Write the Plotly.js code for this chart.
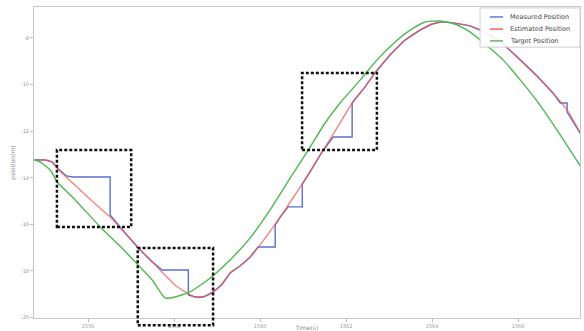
<!DOCTYPE html>
<html><head><meta charset="utf-8">
<script src="https://cdn.plot.ly/plotly-3.0.1.min.js"></script>
<style>html,body{margin:0;padding:0;background:#fff}#chart{width:584px;height:331px}</style>
</head><body><div id="chart"></div>
<script>
// Target position
const targetT = [1554.74,1554.88,1555.12,1555.28,1555.70,1556.28,1556.74,1557.16,1557.49,1557.79,1558.02,1558.37,1558.84,1559.30,1559.77,1560.23,1560.70,1561.12,1561.51,1561.86,1562.33,1562.72,1563.14,1563.49,1563.84,1564.19,1564.53,1564.88,1565.23,1565.65,1566.05,1566.51,1566.98,1567.51];
const targetPos = [-13.24,-13.32,-13.67,-14.18,-14.95,-16.11,-16.93,-17.74,-18.39,-19.16,-19.12,-18.90,-18.30,-17.53,-16.58,-15.38,-14.01,-12.81,-11.65,-10.79,-9.80,-8.94,-8.17,-7.66,-7.31,-7.27,-7.40,-7.74,-8.26,-8.94,-9.80,-10.88,-12.16,-13.67];
// Estimated position
const estT = [1554.74,1555.00,1555.16,1555.28,1555.49,1555.81,1556.16,1556.51,1556.86,1557.21,1557.49,1557.74,1558.02,1558.30,1558.49,1558.67,1558.91,1559.12,1559.30,1559.53,1559.77,1560.12,1560.47,1560.81,1561.16,1561.44,1561.79,1562.14,1562.44,1562.67,1563.02,1563.37,1563.72,1564.00,1564.23,1564.53,1564.88,1565.28,1565.65,1566.05,1566.44,1566.81,1567.14,1567.51];
const estPos = [-13.24,-13.24,-13.32,-13.58,-13.97,-14.52,-15.12,-15.68,-16.37,-17.10,-17.61,-18.09,-18.60,-18.94,-19.12,-19.12,-18.90,-18.56,-18.09,-17.79,-17.40,-16.58,-15.68,-14.74,-13.75,-12.89,-11.86,-10.79,-10.10,-9.50,-8.73,-8.09,-7.66,-7.40,-7.31,-7.36,-7.48,-7.79,-8.26,-8.94,-9.63,-10.36,-11.09,-12.29];
// Measured position (sample-and-hold)
const measT = [1554.74,1555.00,1555.16,1555.28,1555.49,1555.65,1556.51,1556.51,1556.86,1557.21,1557.49,1557.72,1558.33,1558.33,1558.49,1558.67,1558.91,1559.12,1559.30,1559.53,1559.77,1559.95,1560.35,1560.35,1560.47,1560.65,1560.98,1560.98,1561.16,1561.44,1561.70,1562.14,1562.14,1562.44,1562.67,1563.02,1563.37,1563.72,1564.00,1564.23,1564.53,1564.88,1565.28,1565.65,1566.05,1566.44,1566.81,1566.98,1567.14,1567.14,1567.51];
const measPos = [-13.24,-13.24,-13.32,-13.58,-13.92,-13.97,-13.97,-15.60,-16.37,-17.10,-17.61,-17.96,-17.96,-19.03,-19.12,-19.12,-18.90,-18.56,-18.09,-17.79,-17.40,-16.97,-16.97,-16.03,-15.68,-15.25,-15.25,-14.27,-13.75,-12.89,-12.25,-12.25,-10.79,-10.10,-9.50,-8.73,-8.09,-7.66,-7.40,-7.31,-7.36,-7.48,-7.79,-8.26,-8.94,-9.63,-10.36,-10.79,-10.79,-11.18,-12.29];
const xTicks = [1556,1558,1560,1562,1564,1566];
const yTicks = [-8,-10,-12,-14,-16,-18,-20];
const seriesNames = ['Measured Position','Estimated Position','Target Position'];
const seriesColors = ['#5b6fd0','#f0584f','#4fb84f'];

const traces = [
  {x: measT, y: measPos, name: seriesNames[0], mode:'lines', line:{color:seriesColors[0], width:1.4}},
  {x: estT, y: estPos, name: seriesNames[1], mode:'lines', opacity:0.72, line:{color:seriesColors[1], width:1.4, shape:'spline', smoothing:0.6}},
  {x: targetT, y: targetPos, name: seriesNames[2], mode:'lines', line:{color:seriesColors[2], width:1.4, shape:'spline', smoothing:0.5}}
];
const boxStyle = {color:'#111', width:2.5, dash:'3px,2px'};
const shapes = [
  {type:'rect', xref:'paper', yref:'paper', x0:0.042, x1:0.178, y0:0.293, y1:0.540, line:boxStyle},
  {type:'rect', xref:'paper', yref:'paper', x0:0.190, x1:0.328, y0:-0.023, y1:0.225, line:boxStyle},
  {type:'rect', xref:'paper', yref:'paper', x0:0.491, x1:0.628, y0:0.540, y1:0.788, line:boxStyle},
  // legend frame
  {type:'rect', xref:'paper', yref:'paper', x0:0.817, x1:1.0, y0:0.871, y1:0.997, fillcolor:'rgba(255,255,255,0.9)', line:{color:'#cfcfcf', width:1}, layer:'above'}
];
const annotations = [];
const legendRowsY = [0.968, 0.929, 0.891];
seriesNames.forEach((n, i) => {
  shapes.push({type:'line', xref:'paper', yref:'paper', x0:0.835, x1:0.859, y0:legendRowsY[i], y1:legendRowsY[i], line:{color:seriesColors[i], width:1.4}, layer:'above'});
  annotations.push({xref:'paper', yref:'paper', x:0.868, y:legendRowsY[i], xanchor:'left', yanchor:'middle', showarrow:false, text:n, font:{family:'DejaVu Sans', size:6.5, color:'#444'}});
});
const layout = {
  width:584, height:331,
  margin:{l:34, r:4, t:7, b:13},
  paper_bgcolor:'#fff', plot_bgcolor:'#fff',
  showlegend:false,
  xaxis:{range:[1554.74,1567.44], tickvals:xTicks, ticktext:xTicks.map(String), showgrid:false, zeroline:false, showline:true, mirror:true, linecolor:'#c8c8c8', linewidth:1, ticks:'outside', ticklen:3, tickcolor:'#bbb', tickfont:{family:'DejaVu Sans', size:5, color:'#999'}, automargin:false, title:{text:'Time(s)', font:{family:'DejaVu Sans', size:6, color:'#888'}, standoff:1}},
  yaxis:{range:[-20.02,-6.67], tickvals:yTicks, ticktext:yTicks.map(String), showgrid:false, zeroline:false, showline:true, mirror:true, linecolor:'#c8c8c8', linewidth:1, ticks:'outside', ticklen:3, tickcolor:'#bbb', tickfont:{family:'DejaVu Sans', size:5, color:'#999'}, automargin:false, title:{text:'position(m)', font:{family:'DejaVu Sans', size:6, color:'#888'}, standoff:4}},
  shapes: shapes,
  annotations: annotations
};
Plotly.newPlot('chart', traces, layout, {staticPlot:true, displayModeBar:false});
</script></body></html>
